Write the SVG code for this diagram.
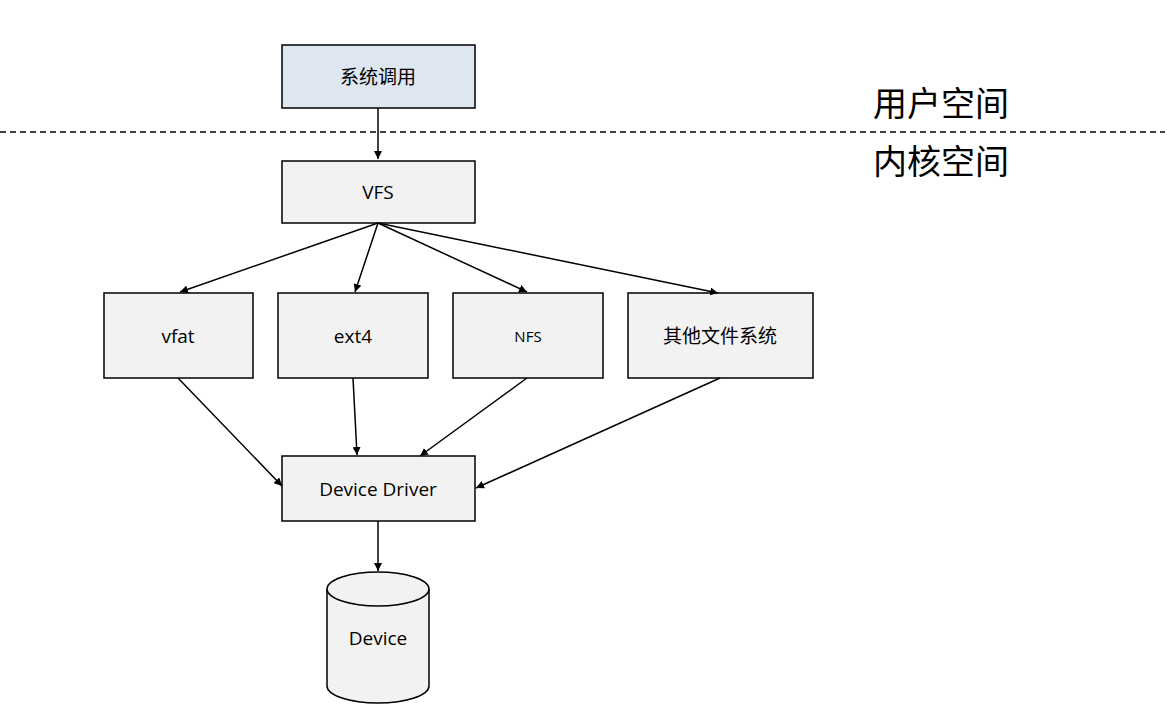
<svg xmlns="http://www.w3.org/2000/svg" width="1171" height="712" viewBox="0 0 1171 712">
<style>
.n{fill:#f2f2f2;stroke:#000;stroke-width:1.5}
.t{font-family:"Open Sans","Noto Sans CJK SC",sans-serif;font-size:19px;text-anchor:middle;dominant-baseline:central;fill:#000}
.big{font-family:"Noto Sans CJK SC",sans-serif;font-size:34px;fill:#000}
.c{stroke:#000;stroke-width:1.5;fill:none;marker-end:url(#a)}
</style>
<defs><marker id="a" viewBox="0 0 10 10" refX="10" refY="5" markerWidth="8" markerHeight="8" orient="auto" markerUnits="userSpaceOnUse"><path d="M0,0L10,5L0,10z"/></marker></defs>
<rect width="1171" height="712" fill="#fff"/>
<line x1="0" y1="132" x2="1165" y2="132" stroke="#000" stroke-width="1.5" stroke-dasharray="6,4"/>
<text class="big" x="873" y="116">用户空间</text>
<text class="big" x="873" y="174">内核空间</text>
<g id="syscall"><rect x="282" y="45" width="193" height="63" fill="#dee6f2" stroke="#000" stroke-width="1.5"/><text class="t" x="378" y="77">系统调用</text></g>
<g id="vfs"><rect class="n" x="282" y="161" width="193" height="62"/><text class="t" x="378" y="192">VFS</text></g>
<g id="vfat"><rect class="n" x="104" y="293" width="149" height="85"/><text class="t" x="178" y="336">vfat</text></g>
<g id="ext4"><rect class="n" x="278" y="293" width="150" height="85"/><text class="t" x="353" y="336">ext4</text></g>
<g id="nfs"><rect class="n" x="453" y="293" width="150" height="85"/><text class="t" x="528" y="336" style="font-size:15px">NFS</text></g>
<g id="other"><rect class="n" x="628" y="293" width="185" height="85"/><text class="t" x="720" y="336">其他文件系统</text></g>
<g id="driver"><rect class="n" x="282" y="456" width="193" height="65"/><text class="t" x="378" y="489">Device Driver</text></g>
<g id="device"><path class="n" d="M327,589 L327,686 A51,17 0 0 0 429,686 L429,589"/><ellipse class="n" cx="378" cy="589" rx="51" ry="17"/><text class="t" x="378" y="638">Device</text></g>
<g id="connectors">
<line class="c" x1="378" y1="108" x2="378" y2="159"/>
<line class="c" x1="378" y1="223" x2="180" y2="292"/>
<line class="c" x1="378" y1="223" x2="355" y2="292"/>
<line class="c" x1="378" y1="223" x2="527" y2="292"/>
<line class="c" x1="378" y1="223" x2="718" y2="293"/>
<line class="c" x1="178" y1="378" x2="282" y2="486"/>
<line class="c" x1="353" y1="378" x2="357" y2="455"/>
<line class="c" x1="527" y1="378" x2="420" y2="456"/>
<line class="c" x1="720" y1="378" x2="476" y2="488"/>
<line class="c" x1="378" y1="521" x2="378" y2="571"/>
</g>
</svg>
